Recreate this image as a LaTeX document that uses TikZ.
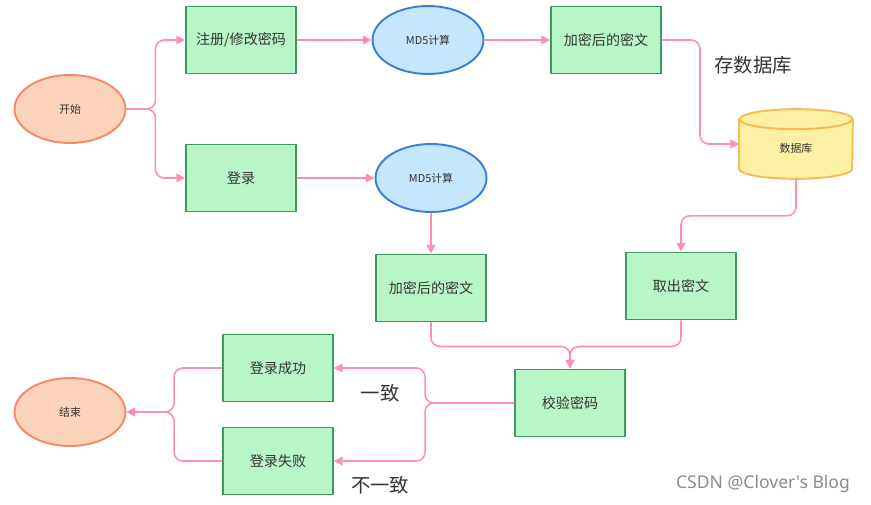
\documentclass[tikz,border=0pt]{standalone}
\usepackage{fontspec}
\setmainfont{Noto Sans CJK SC}
\newfontfamily\markfont{Noto Sans}
\usetikzlibrary{shapes.geometric,arrows.meta,backgrounds}
\definecolor{boxfill}{HTML}{B9F6C5}
\definecolor{boxline}{HTML}{3C9A62}
\definecolor{termfill}{HTML}{FDD2BA}
\definecolor{termline}{HTML}{F48A6A}
\definecolor{calcfill}{HTML}{C4E7FD}
\definecolor{calcline}{HTML}{3A7FD6}
\definecolor{dbfill}{HTML}{FDF0A2}
\definecolor{dbline}{HTML}{F8BA52}
\definecolor{flowpink}{HTML}{FF8FAF}
\definecolor{txt}{HTML}{333333}
\tikzset{
  box/.style={draw=boxline,fill=boxfill,line width=1.1pt,minimum width=2.2cm,minimum height=1.34cm,text=txt,font=\fontsize{8}{10}\selectfont},
  term/.style={ellipse,draw=termline,fill=termfill,line width=1.1pt,minimum width=2.22cm,minimum height=1.36cm,inner sep=0pt,text=txt,font=\fontsize{6.2}{8}\selectfont},
  calc/.style={term,draw=calcline,fill=calcfill},
  store/.style={minimum width=2.26cm,minimum height=1.38cm,inner sep=0pt,text=txt,font=\fontsize{6.2}{8}\selectfont},
  lid/.style={x radius=1.13cm,y radius=0.2cm},
  link/.style={draw=flowpink,line width=0.9pt,rounded corners=5pt},
  flow/.style={link,-{Triangle[length=5pt,width=5pt]}},
  note/.style={text=txt,font=\fontsize{11}{13}\selectfont}
}

\begin{document}
\begin{tikzpicture}[x=0.02cm,y=-0.02cm]
\useasboundingbox (0,0) rectangle (871,504);
% top row: register
\node[term] (start) at (70,109) {开始};
\node[box] (reg) at (241,40) {注册/修改密码};
\node[calc] (md5a) at (428,40) {MD5计算};
\node[box] (enca) at (606,40) {加密后的密文};
\node[store] (db) at (796,144) {\raisebox{-0.17cm}[0pt][0pt]{数据库}};
% the cylinder behind the db node
\begin{scope}[on background layer]
\draw[draw=dbline,fill=dbfill,line width=1.1pt] ([yshift=-0.2cm]db.north west) -- ([yshift=0.2cm]db.south west)
  arc[start angle=180,end angle=360,lid] -- ([yshift=-0.2cm]db.north east)
  arc[start angle=0,end angle=180,lid] -- cycle;
\draw[draw=dbline,line width=1.1pt] ([yshift=-0.2cm]db.north west) arc[start angle=180,end angle=360,lid];
\end{scope}
% second row: login
\node[box] (login) at (241,178) {登录};
\node[calc] (md5b) at (431,178) {MD5计算};
\node[box] (encb) at (431,288) {加密后的密文};
\node[box] (fetch) at (681,286) {取出密文};
\node[box] (check) at (570,403) {校验密码};
% results
\node[box] (ok) at (278,368) {登录成功};
\node[box] (fail) at (278,461) {登录失败};
\node[term] (stop) at (70,412) {结束};
% labels
\node[note] (savetxt) at (753,65) {存数据库};
\node[note] (sametxt) at (380,393) {一致};
\node[note] (difftxt) at (380,485) {不一致};
\node[text=black!45,font=\markfont\fontsize{10}{12}\selectfont] (mark) at (763,484) {CSDN @Clover's Blog};

\draw[flow] (start.east) -- ++(29,0) |- (reg.west);
\draw[flow] (start.east) -- ++(29,0) |- (login.west);
\draw[flow] (reg.east) -- (md5a.west);
\draw[flow] (md5a.east) -- (enca.west);
\draw[flow] (enca.east) -- ++(38,0) |- (db.west);
\draw[flow] (db.south) -- ++(0,37) -| (fetch.north);
\draw[flow] (login.east) -- (md5b.west);
\draw[flow] (md5b.south) -- (encb.north);
\draw[flow] (encb.south) -- ++(0,24) -| (check.north);
\draw[flow] (fetch.south) -- ++(0,26) -| (check.north);
\draw[flow] (check.west) -- ++(-89,0) |- (ok.east);
\draw[flow] (check.west) -- ++(-89,0) |- (fail.east);
\draw[flow] (ok.west) -- ++(-48,0) |- (stop.east);
\draw[flow] (fail.west) -- ++(-48,0) |- (stop.east);
\end{tikzpicture}
\end{document}
